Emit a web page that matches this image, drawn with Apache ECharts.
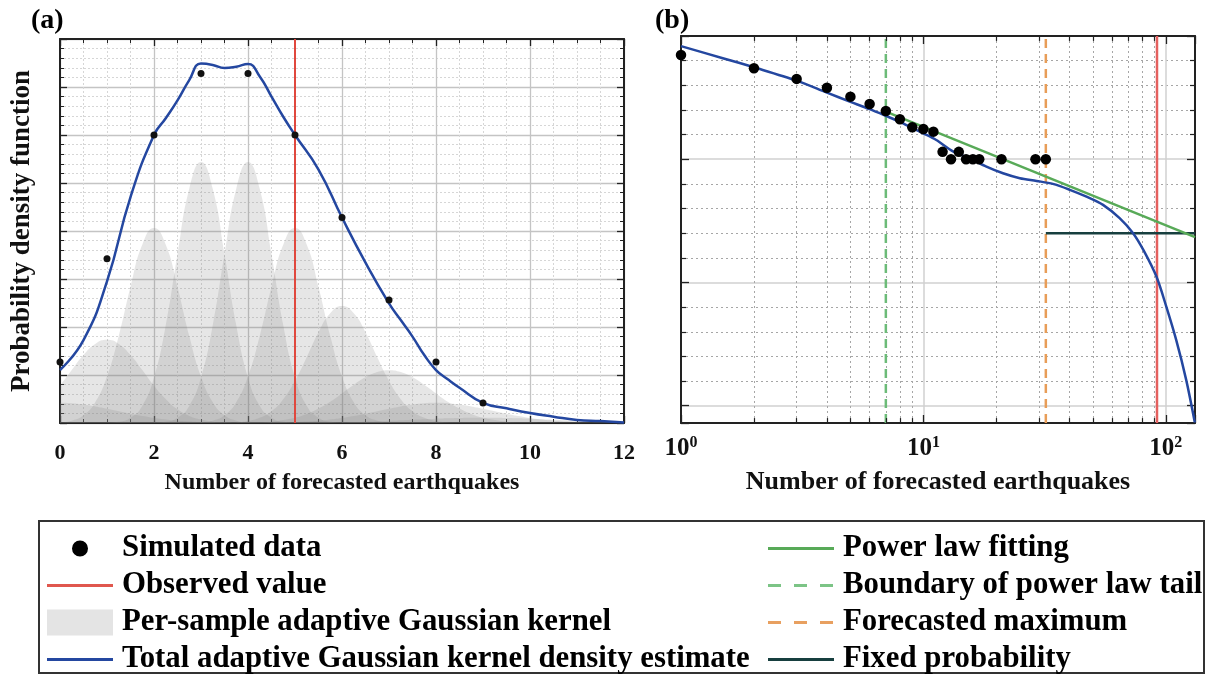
<!DOCTYPE html>
<html><head><meta charset="utf-8">
<script src="https://cdn.jsdelivr.net/npm/echarts@6/dist/echarts.min.js"></script>
<style>html,body{margin:0;padding:0;background:#fff}#c{width:1214px;height:676px}</style>
</head><body><div id="c"></div>
<script>
// ================= Panel (a) data =================
const simAX = [0, 1, 2, 3, 4, 5, 6, 7, 8, 9];
const simAY = [0.0318, 0.0855, 0.150, 0.182, 0.182, 0.150, 0.107, 0.064, 0.0318, 0.0104];
const kdeAX = [0, 0.5, 1, 1.5, 2, 2.25, 2.5, 2.75, 3, 3.25, 3.5, 3.75, 4, 4.25, 4.5, 4.75, 5, 5.5, 6, 6.5, 7, 7.25, 7.5, 7.75, 8, 8.25, 8.5, 9, 9.5, 10, 10.5, 11, 11.5, 12];
const kdeAY = [0.0276, 0.0432, 0.0738, 0.1177, 0.150, 0.1587, 0.168, 0.1786, 0.1872, 0.1865, 0.1849, 0.1856, 0.187, 0.1805, 0.170, 0.1595, 0.150, 0.132, 0.107, 0.0835, 0.0623, 0.0536, 0.045, 0.0354, 0.0276, 0.0228, 0.0184, 0.0105, 0.0077, 0.0052, 0.0033, 0.0016, 0.001, 0.0003];
const observedA = 5;
// per-sample kernels: centre and half-profile (values at distance 0, 0.25, 0.5, ... from centre)
const kernelCenters = [0, 1, 2, 3, 4, 5, 6, 7, 8, 9];
const kernelStep = 0.25;
const kernelK0 = [0.0105, 0.0103, 0.0096, 0.0086, 0.0074, 0.0061, 0.0048, 0.0036, 0.0026, 0.0018, 0.0012, 0.0008, 0.0005, 0.0003, 0.0002, 0.0001];
const kernelK1 = [0.0433, 0.0412, 0.0354, 0.0276, 0.0194, 0.0124, 0.0071, 0.0037, 0.0018, 0.0007, 0.0003, 0.0001];
const kernelK2 = [0.1015, 0.0928, 0.0708, 0.0453, 0.0242, 0.0108, 0.0040, 0.0012, 0.0003, 0.0001];
const kernelK3 = [0.136, 0.122, 0.0879, 0.0509, 0.0237, 0.0089, 0.0027, 0.0006, 0.0001];
const kernelK4 = [0.136, 0.122, 0.0879, 0.0509, 0.0237, 0.0089, 0.0027, 0.0006, 0.0001];
const kernelK5 = [0.1015, 0.0928, 0.0708, 0.0453, 0.0242, 0.0108, 0.0040, 0.0012, 0.0003, 0.0001];
const kernelK6 = [0.061, 0.0572, 0.0473, 0.0343, 0.0220, 0.0124, 0.0061, 0.0027, 0.0010, 0.0003, 0.0001];
const kernelK7 = [0.0275, 0.0265, 0.0238, 0.0199, 0.0154, 0.0111, 0.0075, 0.0047, 0.0027, 0.0015, 0.0007, 0.0003, 0.0002, 0.0001];
const kernelK8 = [0.0105, 0.0103, 0.0096, 0.0086, 0.0074, 0.0061, 0.0048, 0.0036, 0.0026, 0.0018, 0.0012, 0.0008, 0.0005, 0.0003, 0.0002, 0.0001];
const kernelK9 = [0.00275, 0.00271, 0.0026, 0.00243, 0.0022, 0.00194, 0.00167, 0.00139, 0.00113, 0.00089, 0.00068, 0.00051, 0.00037];
const kernelProfiles = [kernelK0, kernelK1, kernelK2, kernelK3, kernelK4, kernelK5, kernelK6, kernelK7, kernelK8, kernelK9];

// ================= Panel (b) data =================
const simBX = [1, 2, 3, 4, 5, 6, 7, 8, 9, 10, 11, 12, 13, 14, 15, 16, 17, 21, 29, 32];
const simBLog10P = [-0.77, -1.31, -1.74, -2.10, -2.46, -2.76, -3.04, -3.38, -3.70, -3.77, -3.88, -4.70, -5.0, -4.70, -5.0, -5.0, -5.0, -5.0, -5.0, -5.0];
const kdeBX = [1, 1.5, 2, 3, 4, 5, 6, 7, 8, 9, 10, 11.3, 13.3, 15.5, 18.2, 21.3, 25, 29.3, 34.2, 40.2, 47.1, 55.1, 64.5, 73.3, 80.8, 91.5, 100.5, 110.4, 121.4, 131.8];
const kdeBLog10P = [-0.41, -0.91, -1.27, -1.81, -2.30, -2.67, -2.97, -3.24, -3.48, -3.73, -3.95, -4.22, -4.69, -4.96, -5.30, -5.57, -5.77, -5.88, -6.00, -6.24, -6.52, -6.85, -7.39, -8.00, -8.68, -9.76, -10.98, -12.33, -13.95, -15.68];
const powerLawX = [7, 132];
const powerLawLog10P = [-3.07, -8.16];
const boundaryX = 7;
const forecastMaxX = 32;
const observedB = 92;
const fixedProbX = [32, 132];
const fixedProbLog10P = [-8, -8];
const bMinorGridX = [2, 3, 4, 5, 6, 7, 8, 9, 20, 30, 40, 50, 60, 70, 80, 90];

// axis ranges
const aXRange = [0, 12], aYRange = [0, 0.2];
const bXRange = [1, 132], bYRange = [-15.7, 0];

const SERIF = '"Liberation Serif", "Times New Roman", serif';
const AX = '#222';
const BLUE = '#2447a0';
const KCOL = '#808080';

function pairs(xs, ys) { return xs.map((x, i) => [x, ys[i]]); }

const series = [];
kernelCenters.forEach((c, i) => {
  const prof = kernelProfiles[i];
  const pts = [];
  for (let j = -(prof.length - 1); j <= prof.length - 1; j++) {
    const x = c + j * kernelStep;
    if (x < aXRange[0] || x > aXRange[1]) continue;
    pts.push([x, prof[Math.abs(j)]]);
  }
  series.push({
    name: 'Per-sample adaptive Gaussian kernel', type: 'line', xAxisIndex: 0, yAxisIndex: 0,
    data: pts, smooth: true, symbol: 'none', z: 2, silent: true,
    itemStyle: { color: KCOL }, lineStyle: { width: 0, color: KCOL },
    areaStyle: { color: KCOL, opacity: 0.2 }
  });
});
series.push({
  name: 'Total adaptive Gaussian kernel density estimate', type: 'line', xAxisIndex: 0, yAxisIndex: 0,
  data: pairs(kdeAX, kdeAY), smooth: 0.5, symbol: 'none', z: 4,
  itemStyle: { color: BLUE }, lineStyle: { color: BLUE, width: 2.5 }
});
series.push({
  name: 'Observed value', type: 'line', xAxisIndex: 0, yAxisIndex: 0,
  data: [[observedA, aYRange[0]], [observedA, aYRange[1]]], symbol: 'none', z: 3,
  itemStyle: { color: '#e0483e' }, lineStyle: { color: '#e0483e', width: 2 }
});
series.push({
  name: 'Simulated data', type: 'scatter', xAxisIndex: 0, yAxisIndex: 0,
  data: pairs(simAX, simAY), symbolSize: 7, z: 5, itemStyle: { color: '#111', opacity: 1 }
});

// panel (b) minor grid / minor ticks at 2..9 x 10^k (decorative)
const minorGridData = bMinorGridX.map(v => ({ xAxis: v }));
const minorTickData = [];
bMinorGridX.forEach(v => {
  minorTickData.push([{ coord: [v, bYRange[0]] }, { coord: [v, bYRange[0] + 0.2] }]);
  minorTickData.push([{ coord: [v, bYRange[1] - 0.2] }, { coord: [v, bYRange[1]] }]);
});
series.push({
  name: '_grid', type: 'line', xAxisIndex: 2, yAxisIndex: 2, data: [[1, -100]], symbol: 'none',
  lineStyle: { width: 0 }, silent: true, z: 1,
  markLine: {
    silent: true, symbol: 'none', label: { show: false }, animation: false, z: 1,
    lineStyle: { color: '#a6a6a6', type: [2, 3], width: 1 },
    data: minorGridData
  }
});
series.push({
  name: '_ticks', type: 'line', xAxisIndex: 2, yAxisIndex: 2, data: [[1, -100]], symbol: 'none',
  lineStyle: { width: 0 }, silent: true, z: 6,
  markLine: {
    silent: true, symbol: 'none', label: { show: false }, animation: false,
    lineStyle: { color: AX, type: 'solid', width: 1.2 },
    data: minorTickData
  }
});
series.push({
  name: 'Boundary of power law tail', type: 'line', xAxisIndex: 2, yAxisIndex: 2,
  data: [[boundaryX, bYRange[0]], [boundaryX, bYRange[1]]], symbol: 'none', z: 3,
  itemStyle: { color: '#6cbb78' }, lineStyle: { color: '#6cbb78', width: 2.5, type: [9, 6] }
});
series.push({
  name: 'Forecasted maximum', type: 'line', xAxisIndex: 2, yAxisIndex: 2,
  data: [[forecastMaxX, bYRange[0]], [forecastMaxX, bYRange[1]]], symbol: 'none', z: 3,
  itemStyle: { color: '#e89d58' }, lineStyle: { color: '#e89d58', width: 2.5, type: [9, 6] }
});
series.push({
  name: 'Observed value', type: 'line', xAxisIndex: 2, yAxisIndex: 2,
  data: [[observedB, bYRange[0]], [observedB, bYRange[1]]], symbol: 'none', z: 3,
  itemStyle: { color: '#e4605e' }, lineStyle: { color: '#e4605e', width: 2.5 }
});
series.push({
  name: 'Fixed probability', type: 'line', xAxisIndex: 2, yAxisIndex: 2,
  data: pairs(fixedProbX, fixedProbLog10P), symbol: 'none', z: 3,
  itemStyle: { color: '#173f3f' }, lineStyle: { color: '#173f3f', width: 2.5 }
});
series.push({
  name: 'Total adaptive Gaussian kernel density estimate', type: 'line', xAxisIndex: 2, yAxisIndex: 2,
  data: pairs(kdeBX, kdeBLog10P), smooth: 0.3, symbol: 'none', z: 4,
  itemStyle: { color: BLUE }, lineStyle: { color: BLUE, width: 2.5 }
});
series.push({
  name: 'Power law fitting', type: 'line', xAxisIndex: 2, yAxisIndex: 2,
  data: pairs(powerLawX, powerLawLog10P), symbol: 'none', z: 4,
  itemStyle: { color: '#58aa58' }, lineStyle: { color: '#58aa58', width: 2.5 }
});
series.push({
  name: 'Simulated data', type: 'scatter', xAxisIndex: 2, yAxisIndex: 2,
  data: pairs(simBX, simBLog10P), symbolSize: 10.5, z: 5, itemStyle: { color: '#000', opacity: 1 }
});

const axisLine = { show: true, onZero: false, lineStyle: { color: AX, width: 2 } };
const tick = { show: true, inside: true, length: 7, lineStyle: { color: AX, width: 1.3 } };
const labelFont = { fontFamily: SERIF, fontWeight: 'bold', color: '#111' };

const supLabel = function (v) {
  const l = Math.log10(v), e = Math.round(l);
  if (Math.abs(l - e) > 1e-6) return '';
  return '{b|10}{s|' + e + '}';
};

const legendText = { fontFamily: SERIF, fontWeight: 'bold', fontSize: 30.8, color: '#000', lineHeight: 30 };
// legend icon shapes (bounding box 70 x 27)
const BOX = 'M0,0L0.01,0M70,27L69.99,27';
const ICON_DOT = 'path://' + BOX + 'M25,13.5A8,8,0,1,1,41,13.5A8,8,0,1,1,25,13.5Z';
const ICON_LINE = 'path://' + BOX + 'M0,12L66,12L66,15L0,15Z';
const ICON_DASH = 'path://' + BOX + 'M0,12h13v3h-13zM26,12h13v3h-13zM52,12h13v3h-13z';
const ICON_RECT = 'path://' + BOX + 'M0,0.5L66,0.5L66,26.5L0,26.5Z';

const option = {
  animation: false,
  backgroundColor: '#fff',
  textStyle: { fontFamily: SERIF },
  title: [
    { text: '(a)', left: 31, top: 7, padding: 0, textStyle: { fontFamily: SERIF, fontWeight: 'bold', fontSize: 28, color: '#000' } },
    { text: '(b)', left: 655, top: 7, padding: 0, textStyle: { fontFamily: SERIF, fontWeight: 'bold', fontSize: 28, color: '#000' } }
  ],
  grid: [
    { left: 60, top: 39, width: 564, height: 384 },
    { left: 681, top: 36, width: 514, height: 387 }
  ],
  xAxis: [
    { gridIndex: 0, type: 'value', min: aXRange[0], max: aXRange[1], interval: 2, position: 'bottom',
      axisLine, axisTick: tick, minorTick: { show: true, splitNumber: 4, length: 4, lineStyle: { color: AX, width: 1 } },
      axisLabel: Object.assign({ fontSize: 22, margin: 19 }, labelFont),
      splitLine: { show: true, lineStyle: { color: '#c4c4c4', width: 1.3 } },
      minorSplitLine: { show: true, lineStyle: { color: '#d6d6d6', width: 1, type: [2, 2] } },
      name: 'Number of forecasted earthquakes', nameLocation: 'middle', nameGap: 48,
      nameTextStyle: { fontFamily: SERIF, fontWeight: 'bold', fontSize: 24, color: '#111' } },
    { gridIndex: 0, type: 'value', min: aXRange[0], max: aXRange[1], interval: 2, position: 'top',
      axisLine, axisTick: tick, minorTick: { show: true, splitNumber: 4, length: 4, lineStyle: { color: AX, width: 1 } },
      axisLabel: { show: false }, splitLine: { show: false } },
    { gridIndex: 1, type: 'log', logBase: 10, min: bXRange[0], max: bXRange[1], position: 'bottom',
      axisLine, axisTick: Object.assign({}, tick, { length: 8 }),
      axisLabel: { margin: 12, formatter: supLabel,
        rich: { b: { fontFamily: SERIF, fontWeight: 'bold', fontSize: 25, color: '#111', lineHeight: 28 },
                s: { fontFamily: SERIF, fontWeight: 'bold', fontSize: 16, color: '#111', lineHeight: 16, verticalAlign: 'top' } } },
      splitLine: { show: true, lineStyle: { color: '#d0d0d0', width: 1.5 } },
      name: 'Number of forecasted earthquakes', nameLocation: 'middle', nameGap: 46,
      nameTextStyle: { fontFamily: SERIF, fontWeight: 'bold', fontSize: 26, color: '#111' } },
    { gridIndex: 1, type: 'log', logBase: 10, min: bXRange[0], max: bXRange[1], position: 'top',
      axisLine, axisTick: Object.assign({}, tick, { length: 8 }), axisLabel: { show: false }, splitLine: { show: false } }
  ],
  yAxis: [
    { gridIndex: 0, type: 'value', min: aYRange[0], max: aYRange[1], interval: 0.025, position: 'left',
      axisLine, axisTick: tick, minorTick: { show: true, splitNumber: 5, length: 4, lineStyle: { color: AX, width: 1 } },
      axisLabel: { show: false },
      splitLine: { show: true, lineStyle: { color: '#c4c4c4', width: 1.3 } },
      minorSplitLine: { show: true, lineStyle: { color: '#d6d6d6', width: 1, type: [2, 2] } },
      name: 'Probability density function', nameLocation: 'middle', nameGap: 24,
      nameTextStyle: { fontFamily: SERIF, fontWeight: 'bold', fontSize: 27, color: '#111' } },
    { gridIndex: 0, type: 'value', min: aYRange[0], max: aYRange[1], interval: 0.025, position: 'right',
      axisLine, axisTick: tick, minorTick: { show: true, splitNumber: 5, length: 4, lineStyle: { color: AX, width: 1 } },
      axisLabel: { show: false }, splitLine: { show: false } },
    { gridIndex: 1, type: 'value', min: bYRange[0], max: bYRange[1], splitNumber: 3, position: 'left',
      axisLine, axisTick: Object.assign({}, tick, { length: 8 }),
      minorTick: { show: true, splitNumber: 5, length: 5, lineStyle: { color: AX, width: 1.2 } },
      axisLabel: { show: false },
      splitLine: { show: true, lineStyle: { color: '#d0d0d0', width: 1.5 } },
      minorSplitLine: { show: true, lineStyle: { color: '#a6a6a6', width: 1, type: [2, 3] } } },
    { gridIndex: 1, type: 'value', min: bYRange[0], max: bYRange[1], splitNumber: 3, position: 'right',
      axisLine, axisTick: Object.assign({}, tick, { length: 8 }),
      minorTick: { show: true, splitNumber: 5, length: 5, lineStyle: { color: AX, width: 1.2 } },
      axisLabel: { show: false }, splitLine: { show: false } }
  ],
  legend: [
    { left: 47, top: 533, padding: 0, orient: 'vertical', itemWidth: 70, itemHeight: 27, itemGap: 6, selectedMode: false,
      textStyle: legendText,
      data: [
        { name: 'Simulated data', icon: ICON_DOT, itemStyle: { color: '#000', borderWidth: 0, opacity: 1 } },
        { name: 'Observed value', icon: ICON_LINE, itemStyle: { color: '#e0574e', borderWidth: 0, opacity: 1 } },
        { name: 'Per-sample adaptive Gaussian kernel', icon: ICON_RECT, itemStyle: { color: '#e4e4e4', borderWidth: 0, opacity: 1 } },
        { name: 'Total adaptive Gaussian kernel density estimate', icon: ICON_LINE, itemStyle: { color: BLUE, borderWidth: 0, opacity: 1 } }
      ] },
    { left: 768, top: 533, padding: 0, orient: 'vertical', itemWidth: 70, itemHeight: 27, itemGap: 6, selectedMode: false,
      textStyle: legendText,
      data: [
        { name: 'Power law fitting', icon: ICON_LINE, itemStyle: { color: '#58aa58', borderWidth: 0, opacity: 1 } },
        { name: 'Boundary of power law tail', icon: ICON_DASH, itemStyle: { color: '#7cc486', borderWidth: 0, opacity: 1 } },
        { name: 'Forecasted maximum', icon: ICON_DASH, itemStyle: { color: '#e8a060', borderWidth: 0, opacity: 1 } },
        { name: 'Fixed probability', icon: ICON_LINE, itemStyle: { color: '#173f3f', borderWidth: 0, opacity: 1 } }
      ] }
  ],
  graphic: [
    { type: 'rect', shape: { x: 39, y: 521, width: 1165, height: 152 }, style: { fill: 'none', stroke: '#333', lineWidth: 2 }, silent: true }
  ],
  series
};

const chart = echarts.init(document.getElementById('c'), null, { renderer: 'canvas' });
chart.setOption(option);
</script></body></html>
